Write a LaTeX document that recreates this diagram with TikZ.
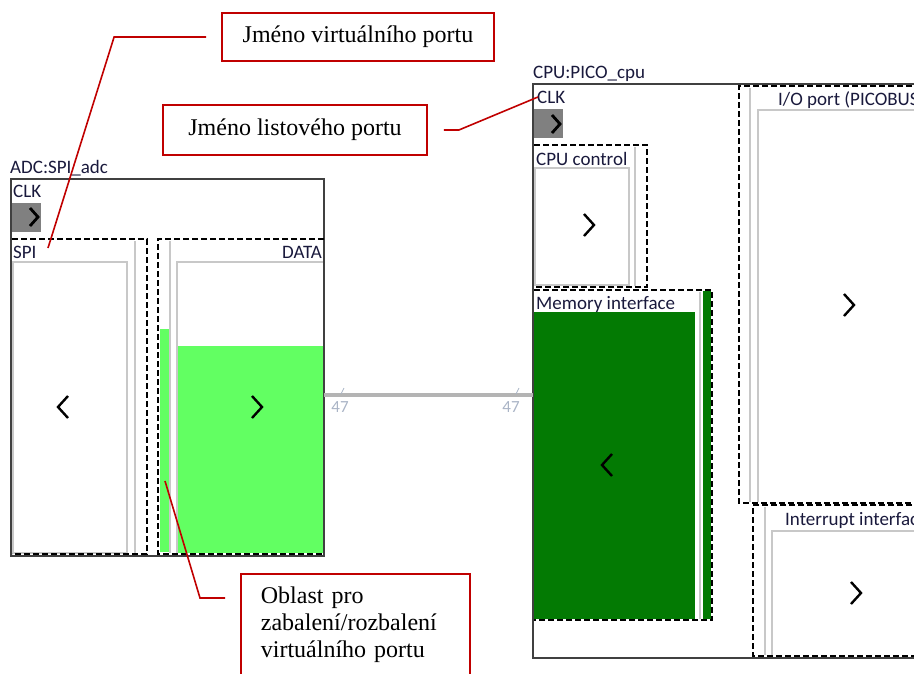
\documentclass[tikz,border=0pt]{standalone}
\usepackage{fontspec}
\setmainfont{Liberation Serif}
\newfontfamily\uifont{Carlito}
\usepackage{xcolor}
\usepackage{tikz}
\usetikzlibrary{positioning}
\definecolor{calloutred}{RGB}{192, 0, 0}
\definecolor{portgreen}{RGB}{98, 255, 98}
\definecolor{memgreen}{RGB}{3, 122, 3}
\definecolor{framegray}{RGB}{200, 200, 200}
\definecolor{busgray}{RGB}{180, 180, 180}
\definecolor{clkgray}{RGB}{128, 128, 128}
\definecolor{uitext}{RGB}{25, 25, 60}
\definecolor{widthgray}{RGB}{170, 180, 198}

\tikzset{
  block/.style={draw=black!75, line width=1.3pt},
  inner/.style={draw=framegray, line width=1.3pt},
  vport/.style={draw=black, line width=2.8pt, dash pattern=on 6pt off 3pt},
  uilabel/.style={font=\uifont\fontsize{19}{21}\selectfont, text=uitext, inner sep=0pt},
  callout/.style={draw=calloutred, line width=1.8pt, fill=white, font=\fontsize{24}{27}\selectfont, inner sep=0pt},
  leader/.style={calloutred, line width=1.6pt},
  bus/.style={busgray, line width=3.2pt},
  chev/.style={black, line width=2.4pt},
  chevr/.pic={\draw[chev] (-5,-11) -- (5,0) -- (-5,11);},
  chevl/.pic={\draw[chev] (5,-11) -- (-5,0) -- (5,11);},
  clkchev/.pic={\draw[chev, line width=2.8pt] (-4,-9) -- (4,0) -- (-4,9);}
}

\begin{document}
\begin{tikzpicture}[x=1pt, y=-1pt]
    \useasboundingbox (0,0) rectangle (914,673);
    \clip (0,0) rectangle (914,673);

    % ADC block
    \node[uilabel, anchor=base west] (adc-name) at (10,173) {ADC:SPI\_adc};
    \draw[block] (11,179) rectangle (324,556);
    \node[uilabel, anchor=base west] (adc-clk) at (13,197) {CLK};
    \fill[clkgray] (12,203) rectangle (41,232);
    \pic at (34,217) {clkchev};

    % SPI (collapsed to the left)
    \draw[inner] (13,262) rectangle (127,553);
    \draw[inner] (135,241) -- (135,553);
    \draw[vport] (12,239) -- (147,239) -- (147,554) -- (12,554);
    \node[uilabel, anchor=base west] (spi-name) at (13,258) {SPI};
    \pic at (63,407) {chevl};

    % DATA
    \fill[portgreen] (160,329) rectangle (169,552);
    \draw[inner] (170,241) -- (170,553);
    \fill[portgreen] (177,346) rectangle (323,553);
    \draw[inner] (177,553) -- (177,262) -- (323,262);
    \draw[vport] (324,239) -- (158,239) -- (158,554) -- (324,554);
    \node[uilabel, anchor=base east] (data-name) at (322,258) {DATA};
    \pic at (257,407) {chevr};

    % CPU block
    \node[uilabel, anchor=base west] (cpu-name) at (533,78) {CPU:PICO\_cpu};
    \draw[block] (533,84) rectangle (930,658);
    \node[uilabel, anchor=base west] (cpu-clk) at (537,103) {CLK};
    \fill[clkgray] (534,109) rectangle (563,138);
    \pic at (556,124) {clkchev};

    % CPU control
    \draw[inner] (535,168) rectangle (629,285);
    \draw[inner] (635,147) -- (635,286);
    \draw[vport] (534,145) -- (647,145) -- (647,287) -- (534,287);
    \node[uilabel, anchor=base west] (ctrl-name) at (536,165) {CPU control};
    \pic at (589,225) {chevr};

    % Memory interface
    \fill[memgreen] (534,312) rectangle (695,619);
    \draw[inner] (700,292) -- (700,619);
    \fill[memgreen] (703,291) rectangle (711,619);
    \draw[vport] (534,290) -- (712,290) -- (712,620) -- (534,620);
    \node[uilabel, anchor=base west] (mem-name) at (536,309) {Memory interface};
    \pic at (607,465) {chevl};

    % I/O port
    \draw[inner] (750,88) -- (750,502);
    \draw[inner] (930,110) -- (758,110) -- (758,502);
    \draw[vport] (930,86) -- (739,86) -- (739,503) -- (930,503);
    \node[uilabel, anchor=base west] (io-name) at (778,105) {I/O port (PICOBUS)};
    \pic at (849,305) {chevr};

    % Interrupt interface
    \draw[inner] (765,507) -- (765,655);
    \draw[inner] (930,531) -- (772,531) -- (772,655);
    \draw[vport] (930,505) -- (753,505) -- (753,656) -- (930,656);
    \node[uilabel, anchor=base west] (irq-name) at (785,525) {Interrupt interface};
    \pic at (856,593) {chevr};

    % Bus between the ports
    \coordinate (adc-out) at (324,395);
    \coordinate (cpu-in) at (533,395);
    \draw[bus] (adc-out) -- (cpu-in);
    \draw[widthgray, line width=0.8pt] ([xshift=17pt, yshift=1pt]adc-out) -- ++(3,-6);
    \draw[widthgray, line width=0.8pt] ([xshift=-17pt, yshift=1pt]cpu-in) -- ++(3,-6);
    \node[uilabel, text=widthgray, font=\uifont\fontsize{17}{19}\selectfont] (adc-width) at (340,407) {47};
    \node[uilabel, text=widthgray, font=\uifont\fontsize{17}{19}\selectfont] (cpu-width) at (511,407) {47};

    % Callouts
    \node[callout, minimum width=272, minimum height=48] (virt-note) at (358,37) {Jméno virtuálního portu};
    \node[callout, minimum width=264, minimum height=50] (leaf-note) at (295,130) {Jméno listového portu};
    \node[callout, anchor=north west, text width=189, inner xsep=20, minimum height=102, align=left] (area-note) at (240,573) {Oblast pro\\zabalení/rozbalení\\virtuálního portu};

    \coordinate (virt-spi) at (48,248);
    \coordinate (leaf-clk) at (538,97);
    \coordinate (area-strip) at (165,481);
    \draw[leader] ([xshift=-15pt]virt-note.west) -- ++(-92,0) -- (virt-spi);
    \draw[leader] ([xshift=16pt]leaf-note.east) -- ++(15,0) -- (leaf-clk);
    \draw[leader] ([shift={(-15,25)}]area-note.north west) -- ++(-25,0) -- (area-strip);
\end{tikzpicture}
\end{document}
